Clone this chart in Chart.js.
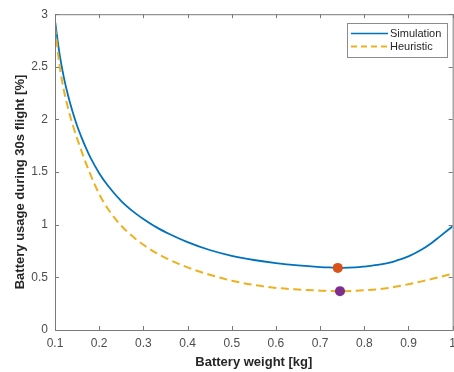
<!DOCTYPE html>
<html>
<head>
<meta charset="utf-8">
<script src="https://cdn.jsdelivr.net/npm/chart.js@4"></script>
<style>
  html, body { margin: 0; padding: 0; background: #fff; overflow: hidden; }
  #wrap { position: relative; width: 462px; height: 372px; }
</style>
</head>
<body>
<div id="wrap"><canvas id="chart"></canvas></div>
<script>
// battery weight [kg]
const weights = [0.10, 0.11, 0.12, 0.13, 0.14, 0.15, 0.16, 0.17, 0.18, 0.20, 0.22, 0.25, 0.28, 0.30, 0.33, 0.36,
  0.40, 0.45, 0.50, 0.55, 0.60, 0.65, 0.70, 0.72, 0.75, 0.78, 0.80, 0.83, 0.85, 0.86, 0.87, 0.90, 0.93, 0.95, 0.97, 1.00]

// battery usage [%]
const simulationUsage = [2.94, 2.63, 2.40, 2.22, 2.07, 1.94, 1.83, 1.73, 1.64, 1.49, 1.37, 1.225, 1.115, 1.055, 0.975, 0.91,
  0.835, 0.76, 0.705, 0.665, 0.635, 0.613, 0.598, 0.594, 0.591, 0.595, 0.603, 0.618, 0.632, 0.642, 0.655, 0.70, 0.765, 0.82, 0.885, 0.985]
const heuristicUsage = [2.88, 2.52, 2.28, 2.10, 1.95, 1.82, 1.70, 1.585, 1.48, 1.29, 1.15, 0.99, 0.875, 0.81, 0.73, 0.665,
  0.595, 0.525, 0.468, 0.428, 0.40, 0.385, 0.374, 0.371, 0.369, 0.372, 0.377, 0.387, 0.397, 0.403, 0.41, 0.435, 0.462, 0.482, 0.503, 0.535]

// optimum markers
const simOptimum = { weight: 0.74, usage: 0.59 }
const heurOptimum = { weight: 0.745, usage: 0.369 }

const xTicks = [0.1, 0.2, 0.3, 0.4, 0.5, 0.6, 0.7, 0.8, 0.9, 1]
const yTicks = [0, 0.5, 1, 1.5, 2, 2.5, 3]

const FONT = "'Liberation Sans', Arial, sans-serif"
const AXIS = '#7a7a7a'

const toPoints = (xs, ys) => xs.map((x, i) => ({ x: x, y: ys[i] }))

// MATLAB style box with inward ticks on all four sides
const boxPlugin = {
  id: 'box',
  afterDatasetsDraw(chart) {
    const { ctx, chartArea: a, scales } = chart
    ctx.save()
    ctx.strokeStyle = AXIS
    ctx.lineWidth = 1
    ctx.strokeRect(a.left + 0.5, a.top + 0.5, a.right - a.left, a.bottom - a.top)
    ctx.beginPath()
    xTicks.forEach(v => {
      const px = Math.round(scales.x.getPixelForValue(v)) + 0.5
      ctx.moveTo(px, a.bottom); ctx.lineTo(px, a.bottom - 4)
      ctx.moveTo(px, a.top); ctx.lineTo(px, a.top + 4)
    })
    yTicks.forEach(v => {
      const py = Math.round(scales.y.getPixelForValue(v)) + 0.5
      ctx.moveTo(a.left, py); ctx.lineTo(a.left + 4, py)
      ctx.moveTo(a.right, py); ctx.lineTo(a.right - 4, py)
    })
    ctx.stroke()
    ctx.restore()
  }
}

// y axis title, centred a bit lower than the axis like the original
const yTitlePlugin = {
  id: 'yTitle',
  afterDraw(chart) {
    const { ctx } = chart
    ctx.save()
    ctx.translate(20, 182)
    ctx.rotate(-Math.PI / 2)
    ctx.font = 'bold 13px ' + FONT
    ctx.fillStyle = '#262626'
    ctx.textAlign = 'center'
    ctx.textBaseline = 'middle'
    ctx.fillText('Battery usage during 30s flight [%]', 0, 0)
    ctx.restore()
  }
}

// legend with a frame, top right
const legendPlugin = {
  id: 'boxLegend',
  afterDraw(chart) {
    const { ctx } = chart
    const x = 347, y = 23, w = 100, h = 34
    ctx.save()
    ctx.fillStyle = '#fff'
    ctx.fillRect(x, y, w, h)
    ctx.strokeStyle = '#8c8c8c'
    ctx.lineWidth = 1
    ctx.strokeRect(x + 0.5, y + 0.5, w, h)
    const items = [
      { label: 'Simulation', color: '#0072BD', dash: [] },
      { label: 'Heuristic', color: '#EDB120', dash: [6, 4] }
    ]
    ctx.font = '11px ' + FONT
    ctx.textBaseline = 'middle'
    items.forEach((it, i) => {
      const cy = y + 10.5 + i * 13
      ctx.strokeStyle = it.color
      ctx.lineWidth = it.dash.length ? 2 : 1.5
      ctx.setLineDash(it.dash)
      ctx.beginPath()
      ctx.moveTo(x + 4, cy); ctx.lineTo(x + 41, cy)
      ctx.stroke()
      ctx.setLineDash([])
      ctx.fillStyle = '#262626'
      ctx.fillText(it.label, x + 43, cy)
    })
    ctx.restore()
  }
}

new Chart(document.getElementById('chart'), {
  type: 'scatter',
  data: {
    datasets: [
      {
        label: 'Simulation',
        data: toPoints(weights, simulationUsage),
        showLine: true,
        borderColor: '#0072BD',
        borderWidth: 1.8,
        pointRadius: 0,
        cubicInterpolationMode: 'monotone',
        order: 3
      },
      {
        label: 'Heuristic',
        data: toPoints(weights, heuristicUsage),
        showLine: true,
        borderColor: '#EDB120',
        borderWidth: 2,
        borderDash: [8, 4.5],
        pointRadius: 0,
        cubicInterpolationMode: 'monotone',
        order: 2
      },
      {
        label: 'Simulation optimum',
        data: [{ x: simOptimum.weight, y: simOptimum.usage }],
        pointRadius: 5,
        pointBackgroundColor: '#D95319',
        pointBorderWidth: 0,
        order: 1
      },
      {
        label: 'Heuristic optimum',
        data: [{ x: heurOptimum.weight, y: heurOptimum.usage }],
        pointRadius: 5,
        pointBackgroundColor: '#7E2F8E',
        pointBorderWidth: 0,
        order: 1
      }
    ]
  },
  options: {
    responsive: true,
    maintainAspectRatio: false,
    animation: false,
    layout: { padding: { top: 13, right: 7, left: 0, bottom: 0 } },
    plugins: {
      legend: { display: false },
      tooltip: { enabled: false }
    },
    scales: {
      x: {
        type: 'linear',
        min: 0.1,
        max: 1,
        afterBuildTicks: scale => { scale.ticks = xTicks.map(v => ({ value: v })) },
        afterFit: scale => { scale.height = 42 },
        grid: { display: false, drawTicks: false },
        border: { display: false },
        ticks: {
          color: '#4d4d4d',
          padding: 6,
          font: { family: FONT, size: 12 },
          callback: v => String(Math.round(v * 10) / 10)
        },
        title: {
          display: true,
          text: 'Battery weight [kg]',
          color: '#262626',
          font: { family: FONT, size: 13, weight: 'bold' },
          padding: { top: 0, bottom: 2 }
        }
      },
      y: {
        min: 0,
        max: 3,
        afterBuildTicks: scale => { scale.ticks = yTicks.map(v => ({ value: v })) },
        afterFit: scale => { scale.width = 55 },
        grid: { display: false, drawTicks: false },
        border: { display: false },
        ticks: {
          color: '#4d4d4d',
          padding: 7,
          font: { family: FONT, size: 12 },
          callback: v => String(v)
        }
      }
    }
  },
  plugins: [boxPlugin, yTitlePlugin, legendPlugin]
})
</script>
</body>
</html>
